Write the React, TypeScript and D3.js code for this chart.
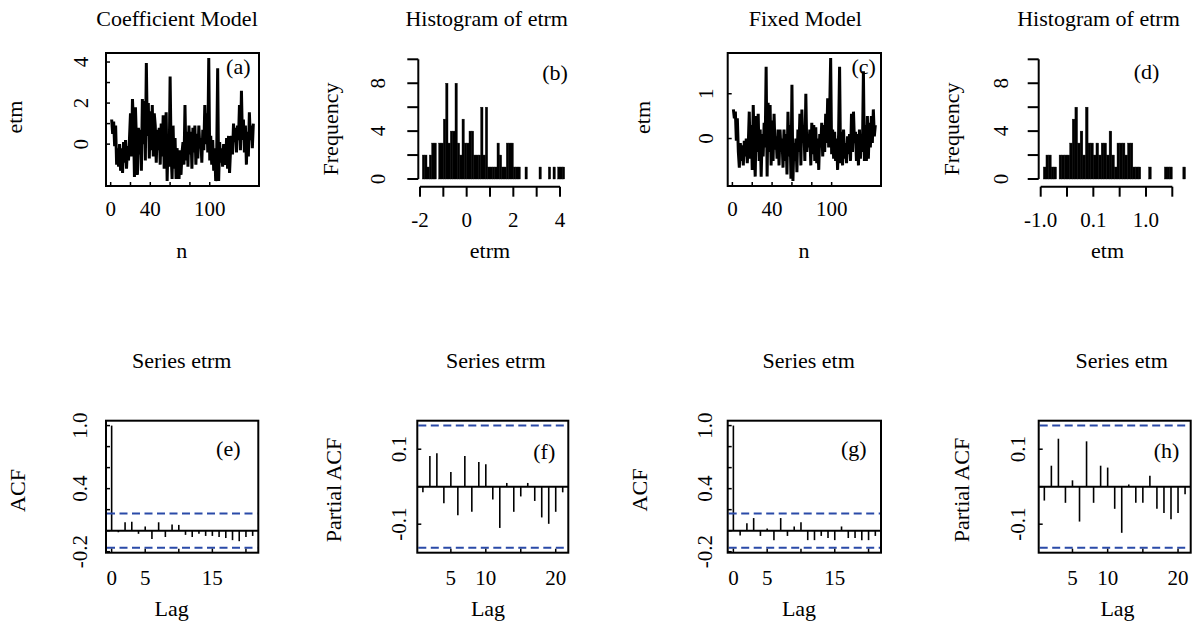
import React, { useEffect, useRef } from "react";
import * as d3 from "d3";

const FONT = "'Liberation Serif', 'Times New Roman', serif";

// residuals of the coefficient model, n = 1..144
const etrmSeries = [
  1.2, 0.5, 1.1, -0.1, 0.9, -1.0, -0.2, -1.1, 0.0, -1.3, -0.2, -1.4, 0.1, -0.9, 0.2, -1.2,
  -0.1, -0.8, 0.3, 1.5, -0.6, 2.2, 1.0, -1.6, 1.8, 0.2, -1.5, 0.8, -0.5, 0.7, -1.3, 2.2,
  0.0, 2.1, -0.8, 3.95, 0.4, 2.0, -0.7, 1.6, -0.3, 1.9, -0.6, 1.5, 0.9, -0.9, 0.7, -0.3,
  0.8, -1.0, 1.0, -0.6, 1.4, -1.2, 0.4, 1.55, -1.8, 0.3, -1.1, 3.3, -0.4, -1.7, 0.9, -1.2,
  0.3, -1.7, -0.2, -0.8, -1.7, -0.3, -1.5, -0.4, 0.1, -1.0, 1.9, -0.8, 0.6, -1.1, 0.9, -0.5,
  0.6, -1.2, 0.8, -0.4, 0.9, -1.0, 0.5, -0.7, 0.9, -0.2, 0.3, -0.9, 0.7, -0.3, 1.9, 0.0,
  1.5, -0.4, 4.2, -0.8, 0.4, -1.0, 0.2, -1.3, -0.2, -1.8, -0.6, 3.7, -1.8, 0.1, -0.9, -0.2,
  -1.1, 0.0, -0.8, -1.0, 0.3, -1.2, 0.4, -1.4, -0.3, 0.4, -0.5, 1.0, 0.1, 0.8, -0.4, 0.9,
  0.2, 1.9, -0.3, 2.6, 0.2, 1.2, -0.4, 0.9, -1.0, 0.6, -0.6, 1.55, 0.2, 0.9, -0.2, 1.0,
];

// residuals of the fixed model, n = 1..144
const etmSeries = [
  0.65, 0.45, 0.6, -0.05, 0.45, -0.3, -0.65, -0.1, -0.5, -0.15, -0.6, -0.05, -0.4, 0.0, -0.55, -0.15,
  0.6, -0.45, 0.3, -0.7, 0.75, -0.2, -0.85, 0.5, -0.3, 0.55, -0.5, 0.2, -0.85, 0.1, -0.4, 0.35,
  -0.2, 1.6, -0.85, 0.8, -0.3, 0.75, -0.6, 0.4, -0.5, 0.55, -0.25, 0.05, -0.45, 0.2, -0.6, 0.2,
  -0.3, 0.0, -0.65, 0.2, -0.5, 0.1, -0.8, 0.6, -0.4, 0.3, -0.9, 1.2, -0.95, -0.1, -0.5, 0.0,
  -0.75, 0.2, -0.3, 0.55, -0.6, 0.65, -0.1, 0.3, -0.5, 1.0, -0.3, 0.1, -0.2, 0.2, -0.6, 0.35,
  -0.35, 0.3, -0.5, 0.25, -0.55, 0.0, -0.7, 0.1, -0.2, 0.35, -0.4, 0.3, -0.3, 0.55, -0.1, 0.9,
  -0.2, 0.6, 1.8, -0.35, 0.2, -0.45, 0.15, -0.5, 0.0, -0.7, 0.1, 1.6, -0.55, 0.15, -0.6, 0.2,
  -0.45, -0.1, -0.55, 0.05, -0.35, 0.1, -0.5, 0.55, -0.3, 0.6, -0.1, 0.15, -0.5, 0.1, -0.6, 0.2,
  -0.45, 0.1, -0.3, 1.5, -0.5, 0.3, -0.5, 0.5, -0.45, 0.35, -0.2, 0.5, -0.1, 0.65, 0.05, 0.3,
];

// histogram of etrm: bins of 0.1 from -1.9
const etrmBreakStart = -1.9;
const etrmBinWidth = 0.1;
const etrmCounts = [
  2, 2, 1, 2, 3, 3, 0, 3, 3, 5,
  8, 3, 4, 4, 8, 3, 2, 5, 3, 3,
  4, 4, 2, 2, 2, 6, 2, 6, 1, 1,
  1, 1, 3, 2, 1, 1, 3, 3, 3, 1,
  1, 1, 0, 0, 1, 0, 0, 0, 0, 0,
  1, 0, 0, 0, 1, 0, 1, 0, 1, 1,
  1,
];

// histogram of etm: bins of 0.05 from -0.95
const etmBreakStart = -0.95;
const etmBinWidth = 0.05;
const etmCounts = [
  1, 2, 2, 1, 1, 0, 2, 2, 2, 2,
  3, 5, 6, 3, 4, 2, 6, 3, 3, 2,
  3, 2, 3, 3, 2, 4, 2, 1, 3, 3,
  3, 2, 3, 3, 1, 1, 1, 0, 0, 0,
  1, 0, 0, 0, 0, 0, 1, 1, 1, 0,
  0, 0, 0, 1,
];

// acf lags 0..21, pacf lags 1..21
const acfEtrm = [1, -0.015, 0.08, 0.085, -0.03, 0.04, -0.08, 0.08, -0.06, 0.06, 0.055, -0.04, -0.06, -0.03, -0.05, -0.05, -0.06, -0.07, -0.09, -0.1, -0.06, -0.05];
const pacfEtrm = [-0.015, 0.082, 0.089, -0.044, 0.039, -0.076, 0.082, -0.067, 0.066, 0.06, -0.034, -0.11, 0.01, -0.067, -0.026, 0.01, -0.038, -0.082, -0.099, -0.067, -0.015];
const acfEtm = [1, -0.045, 0.07, 0.12, -0.05, 0.02, -0.09, 0.12, -0.05, 0.04, 0.08, -0.09, -0.09, -0.05, -0.07, -0.09, 0.04, -0.07, -0.07, -0.09, -0.09, -0.05];
const pacfEtm = [-0.037, 0.056, 0.128, -0.043, 0.017, -0.093, 0.121, -0.043, 0.056, 0.051, -0.059, -0.123, 0.006, -0.043, -0.043, 0.029, -0.059, -0.07, -0.087, -0.07, -0.02];
const confBound = 0.163;

const seriesTicksX = [0, 20, 40, 60, 80, 100];
const seriesLabelsX = [0, 40, 100];
const etrmTicksY = [0, 1, 2, 3, 4];
const etrmLabelsY = [0, 2, 4];
const etmTicksY = [0, 1];
const etmLabelsY = [0, 1];
const histTicksY = [0, 2, 4, 6, 8, 10];
const histLabelsY = [0, 4, 8];
const etrmHistTicksX = [-2, -1, 0, 1, 2, 3, 4];
const etrmHistLabelsX = ["-2", "0", "2", "4"];
const etrmHistLabelsAt = [-2, 0, 2, 4];
const etmHistTicksX = [-1, -0.5, 0, 0.5, 1, 1.5];
const etmHistLabelsX = ["-1.0", "0.1", "1.0"];
const etmHistLabelsAt = [-1, 0, 1];
const acfTicksY = [-0.2, 0, 0.2, 0.4, 0.6, 0.8, 1];
const acfLabelsY = [-0.2, 0.4, 1];
const pacfTicksY = [-0.1, 0, 0.1];
const pacfLabelsY = [-0.1, 0.1];
const acfTicksX = [0, 5, 10, 15, 20];
const acfLabelsX = [0, 5, 15];
const pacfTicksX = [5, 10, 15, 20];
const pacfLabelsX = [5, 10, 20];

type Box = { x0: number; y0: number; x1: number; y1: number };
type Sel = d3.Selection<any, unknown, null, undefined>;

function txt(g: Sel, x: number, y: number, s: string, size: number, rotate = false) {
  const t = g
    .append("text")
    .attr("x", x)
    .attr("y", y)
    .attr("font-family", FONT)
    .attr("font-size", size)
    .attr("text-anchor", "middle")
    .attr("fill", "#000")
    .text(s);
  if (rotate) t.attr("transform", `rotate(-90,${x},${y})`);
  return t;
}

function frame(g: Sel, b: Box) {
  g.append("rect")
    .attr("x", b.x0)
    .attr("y", b.y0)
    .attr("width", b.x1 - b.x0)
    .attr("height", b.y1 - b.y0)
    .attr("fill", "none")
    .attr("stroke", "#000")
    .attr("stroke-width", 2);
}

function innerTicks(g: Sel, b: Box, x: any, y: any, tx: number[], ty: number[]) {
  tx.forEach((t) => {
    g.append("line").attr("x1", x(t)).attr("x2", x(t)).attr("y1", b.y1).attr("y2", b.y1 - 4).attr("stroke", "#000").attr("stroke-width", 1.5);
  });
  ty.forEach((t) => {
    g.append("line").attr("x1", b.x0).attr("x2", b.x0 + 4).attr("y1", y(t)).attr("y2", y(t)).attr("stroke", "#000").attr("stroke-width", 1.5);
  });
}

function seriesPanel(g: Sel, b: Box, data: number[], ticksY: number[], labelsY: number[], yLabX: number, xLabY: number) {
  const n = data.length;
  const padX = 0.04 * (n - 1);
  const x = d3.scaleLinear().domain([1 - padX, n + padX]).range([b.x0, b.x1]);
  const [lo, hi] = d3.extent(data) as [number, number];
  const r = hi - lo;
  const y = d3.scaleLinear().domain([lo - 0.04 * r, hi + 0.04 * r]).range([b.y1, b.y0]);
  const line = d3
    .line<number>()
    .x((_, i) => x(i + 1))
    .y((d) => y(d));
  g.append("path")
    .datum(data)
    .attr("d", line)
    .attr("fill", "none")
    .attr("stroke", "#000")
    .attr("stroke-width", 3)
    .attr("stroke-linejoin", "bevel");
  frame(g, b);
  innerTicks(g, b, x, y, seriesTicksX, ticksY);
  seriesLabelsX.forEach((t) => txt(g, x(t), xLabY, String(t), 21));
  labelsY.forEach((t) => txt(g, yLabX, y(t), String(t), 21, true));
}

function histPanel(
  g: Sel,
  x: d3.ScaleLinear<number, number>,
  y: d3.ScaleLinear<number, number>,
  start: number,
  width: number,
  counts: number[],
  ticksX: number[],
  labelsX: string[],
  labelsAt: number[],
  axisX: number,
  axisY: number,
  yLabX: number
) {
  const bins = counts.map((c, i) => ({ x0: start + i * width, x1: start + (i + 1) * width, c }));
  g.selectAll(null)
    .data(bins.filter((d) => d.c > 0))
    .join("rect")
    .attr("x", (d) => x(d.x0))
    .attr("width", (d) => x(d.x1) - x(d.x0))
    .attr("y", (d) => y(d.c))
    .attr("height", (d) => y(0) - y(d.c))
    .attr("fill", "#000")
    .attr("stroke", "#000")
    .attr("stroke-width", 0.4);
  // y axis
  g.append("line").attr("x1", axisX).attr("x2", axisX).attr("y1", y(0)).attr("y2", y(10)).attr("stroke", "#000").attr("stroke-width", 2);
  histTicksY.forEach((t) => {
    g.append("line").attr("x1", axisX - 11).attr("x2", axisX).attr("y1", y(t)).attr("y2", y(t)).attr("stroke", "#000").attr("stroke-width", 2);
  });
  histLabelsY.forEach((t) => txt(g, yLabX, y(t), String(t), 21, true));
  // x axis
  const x0 = ticksX[0];
  const x1 = ticksX[ticksX.length - 1];
  g.append("line").attr("x1", x(x0)).attr("x2", x(x1)).attr("y1", axisY).attr("y2", axisY).attr("stroke", "#000").attr("stroke-width", 2);
  ticksX.forEach((t) => {
    g.append("line").attr("x1", x(t)).attr("x2", x(t)).attr("y1", axisY).attr("y2", axisY + 10).attr("stroke", "#000").attr("stroke-width", 2);
  });
  labelsX.forEach((s, i) => txt(g, x(labelsAt[i]), 227, s, 21));
}

function acfPanel(
  g: Sel,
  b: Box,
  values: number[],
  firstLag: number,
  ticksX: number[],
  labelsX: number[],
  ticksY: number[],
  labelsY: number[],
  yLabX: number
) {
  const lastLag = firstLag + values.length - 1;
  const px = 0.04 * (lastLag - firstLag);
  const x = d3.scaleLinear().domain([firstLag - px, lastLag + px]).range([b.x0, b.x1]);
  const lo = Math.min(-confBound, d3.min(values) as number);
  const hi = Math.max(confBound, d3.max(values) as number);
  const py = 0.04 * (hi - lo);
  const y = d3.scaleLinear().domain([lo - py, hi + py]).range([b.y1, b.y0]);
  g.append("line").attr("x1", b.x0).attr("x2", b.x1).attr("y1", y(0)).attr("y2", y(0)).attr("stroke", "#000").attr("stroke-width", 2);
  g.selectAll(null)
    .data(values)
    .join("line")
    .attr("x1", (_, i) => x(firstLag + i))
    .attr("x2", (_, i) => x(firstLag + i))
    .attr("y1", y(0))
    .attr("y2", (d) => y(d))
    .attr("stroke", "#000")
    .attr("stroke-width", 1.6);
  [confBound, -confBound].forEach((c) => {
    g.append("line")
      .attr("x1", b.x0 + 1)
      .attr("x2", b.x1 - 1)
      .attr("y1", y(c))
      .attr("y2", y(c))
      .attr("stroke", "#2a4aa8")
      .attr("stroke-width", 2)
      .attr("stroke-dasharray", "8,4.5");
  });
  frame(g, b);
  innerTicks(g, b, x, y, ticksX, ticksY);
  labelsX.forEach((t) => txt(g, x(t), 585, String(t), 21));
  labelsY.forEach((t) => txt(g, yLabX, y(t), t.toFixed(1), 21, true));
}

export default function App() {
  const ref = useRef<SVGSVGElement>(null);

  useEffect(() => {
    const svg = d3.select(ref.current) as Sel;
    svg.selectAll("*").remove();
    svg.append("rect").attr("width", 1193).attr("height", 626).attr("fill", "#fff");

    // row 1
    seriesPanel(svg, { x0: 106, y0: 53, x1: 259, y1: 186 }, etrmSeries, etrmTicksY, etrmLabelsY, 88, 215.7);
    seriesPanel(svg, { x0: 727.7, y0: 53, x1: 881, y1: 186 }, etmSeries, etmTicksY, etmLabelsY, 713, 215.7);

    const yHist = d3.scaleLinear().domain([0, 10]).range([179, 59.3]);
    const xHistB = d3.scaleLinear().domain([-2, 4]).range([420, 560]);
    histPanel(svg, xHistB, yHist, etrmBreakStart, etrmBinWidth, etrmCounts, etrmHistTicksX, etrmHistLabelsX, etrmHistLabelsAt, 418.3, 186.7, 385);
    const xHistD = d3.scaleLinear().domain([-1, 1.5]).range([1040.7, 1172.3]);
    histPanel(svg, xHistD, yHist, etmBreakStart, etmBinWidth, etmCounts, etmHistTicksX, etmHistLabelsX, etmHistLabelsAt, 1038.7, 186.7, 1008);

    // row 2
    acfPanel(svg, { x0: 106, y0: 420.7, x1: 258.3, y1: 552.7 }, acfEtrm, 0, acfTicksX, acfLabelsX, acfTicksY, acfLabelsY, 87.3);
    acfPanel(svg, { x0: 417.3, y0: 420.7, x1: 568.3, y1: 552.7 }, pacfEtrm, 1, pacfTicksX, pacfLabelsX, pacfTicksY, pacfLabelsY, 406);
    acfPanel(svg, { x0: 727.7, y0: 420.7, x1: 881, y1: 552.7 }, acfEtm, 0, acfTicksX, acfLabelsX, acfTicksY, acfLabelsY, 711.7);
    acfPanel(svg, { x0: 1038.7, y0: 420.7, x1: 1190.7, y1: 552.7 }, pacfEtm, 1, pacfTicksX, pacfLabelsX, pacfTicksY, pacfLabelsY, 1024.7);

    // titles
    const titles: [string, number, number][] = [
      ["Coefficient Model", 177, 26],
      ["Histogram of etrm", 486.7, 26],
      ["Fixed Model", 805.3, 26],
      ["Histogram of etrm", 1098.5, 26],
      ["Series etrm", 181.7, 368.3],
      ["Series etrm", 495.8, 368.3],
      ["Series etm", 808.7, 368.3],
      ["Series etm", 1121.7, 368.3],
    ];
    titles.forEach(([s, x, y]) => txt(svg, x, y, s, 22));

    // axis titles
    const xTitles: [string, number, number][] = [
      ["n", 181.7, 258],
      ["etrm", 490, 258],
      ["n", 804, 258],
      ["etm", 1107.5, 258],
      ["Lag", 171.7, 616],
      ["Lag", 488, 616],
      ["Lag", 799, 616],
      ["Lag", 1117.5, 616],
    ];
    xTitles.forEach(([s, x, y]) => txt(svg, x, y, s, 22));
    const yTitles: [string, number, number][] = [
      ["etm", 21.7, 117],
      ["Frequency", 337.5, 129],
      ["etm", 650, 117.5],
      ["Frequency", 958.5, 129],
      ["ACF", 25, 490.5],
      ["Partial ACF", 340.7, 490],
      ["ACF", 646.7, 490],
      ["Partial ACF", 969, 490],
    ];
    yTitles.forEach(([s, x, y]) => txt(svg, x, y, s, 22, true));

    // panel tags
    const tags: [string, number, number][] = [
      ["(a)", 238.3, 74],
      ["(b)", 555, 80],
      ["(c)", 863.7, 74],
      ["(d)", 1146.5, 79],
      ["(e)", 228.3, 456],
      ["(f)", 544.3, 459],
      ["(g)", 853.8, 456],
      ["(h)", 1166.5, 458],
    ];
    tags.forEach(([s, x, y]) => txt(svg, x, y, s, 22));
  }, []);

  return <svg ref={ref} width={1193} height={626} style={{ position: "absolute", left: 0, top: 0 }} />;
}
